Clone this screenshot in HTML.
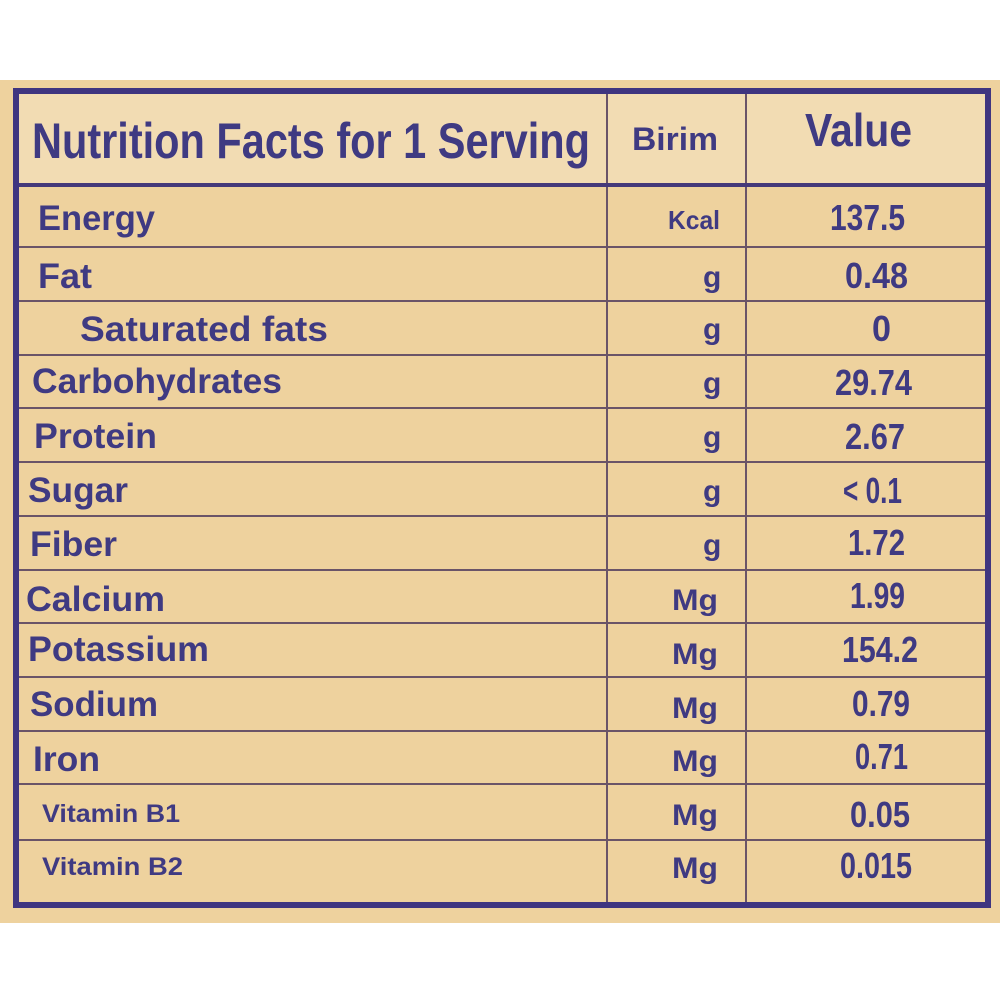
<!DOCTYPE html>
<html><head><meta charset="utf-8"><style>
html,body{margin:0;padding:0;background:#fff;}
svg{display:block}
</style></head><body>
<svg width="1000" height="1000" viewBox="0 0 1000 1000" xmlns="http://www.w3.org/2000/svg">
<rect x="0" y="0" width="1000" height="1000" fill="#ffffff"/>
<rect x="0" y="80" width="1000" height="843" fill="#eed29e"/>
<rect x="16" y="92" width="972" height="93" fill="#f2dcb3"/>
<g stroke="#6a5468" stroke-width="2" fill="none">
<line x1="16" y1="247" x2="988" y2="247"/>
<line x1="16" y1="301" x2="988" y2="301"/>
<line x1="16" y1="355" x2="988" y2="355"/>
<line x1="16" y1="408" x2="988" y2="408"/>
<line x1="16" y1="462" x2="988" y2="462"/>
<line x1="16" y1="516" x2="988" y2="516"/>
<line x1="16" y1="570" x2="988" y2="570"/>
<line x1="16" y1="623" x2="988" y2="623"/>
<line x1="16" y1="677" x2="988" y2="677"/>
<line x1="16" y1="731" x2="988" y2="731"/>
<line x1="16" y1="784" x2="988" y2="784"/>
<line x1="16" y1="840" x2="988" y2="840"/>
<line x1="607" y1="92" x2="607" y2="905"/>
<line x1="746" y1="92" x2="746" y2="905"/>
</g>
<line x1="16" y1="185" x2="988" y2="185" stroke="#45397a" stroke-width="4"/>
<rect x="16" y="91" width="972" height="814" fill="none" stroke="#3f3580" stroke-width="6"/>
<g fill="#3f3a82" font-family="'Liberation Sans Narrow','Liberation Sans',sans-serif" font-weight="bold">
<text x="32" y="158" font-size="50" textLength="558" lengthAdjust="spacingAndGlyphs">Nutrition Facts for 1 Serving</text>
<text x="632" y="150" font-size="32" textLength="86" lengthAdjust="spacingAndGlyphs">Birim</text>
<text x="805" y="146" font-size="46" textLength="107" lengthAdjust="spacingAndGlyphs">Value</text>

<g font-family="'Liberation Sans',sans-serif" font-size="35">
<text x="38" y="230" textLength="117" lengthAdjust="spacingAndGlyphs">Energy</text>
<text x="38" y="288" textLength="54" lengthAdjust="spacingAndGlyphs">Fat</text>
<text x="80" y="341" textLength="248" lengthAdjust="spacingAndGlyphs">Saturated fats</text>
<text x="32" y="393" textLength="250" lengthAdjust="spacingAndGlyphs">Carbohydrates</text>
<text x="34" y="448" textLength="123" lengthAdjust="spacingAndGlyphs">Protein</text>
<text x="28" y="502" textLength="100" lengthAdjust="spacingAndGlyphs">Sugar</text>
<text x="30" y="556" textLength="87" lengthAdjust="spacingAndGlyphs">Fiber</text>
<text x="26" y="611" textLength="139" lengthAdjust="spacingAndGlyphs">Calcium</text>
<text x="28" y="661" textLength="181" lengthAdjust="spacingAndGlyphs">Potassium</text>
<text x="30" y="716" textLength="128" lengthAdjust="spacingAndGlyphs">Sodium</text>
<text x="33" y="771" textLength="67" lengthAdjust="spacingAndGlyphs">Iron</text>
<text x="42" y="822" font-size="25" textLength="138" lengthAdjust="spacingAndGlyphs">Vitamin B1</text>
<text x="42" y="875" font-size="25" textLength="141" lengthAdjust="spacingAndGlyphs">Vitamin B2</text>

<text x="668" y="229" font-size="26" textLength="52" lengthAdjust="spacingAndGlyphs">Kcal</text>
<text x="703" y="287" font-size="30">g</text>
<text x="703" y="339" font-size="30">g</text>
<text x="703" y="393" font-size="30">g</text>
<text x="703" y="447" font-size="30">g</text>
<text x="703" y="501" font-size="30">g</text>
<text x="703" y="555" font-size="30">g</text>
<text x="672" y="610" font-size="30" textLength="46" lengthAdjust="spacingAndGlyphs">Mg</text>
<text x="672" y="664" font-size="30" textLength="46" lengthAdjust="spacingAndGlyphs">Mg</text>
<text x="672" y="718" font-size="30" textLength="46" lengthAdjust="spacingAndGlyphs">Mg</text>
<text x="672" y="771" font-size="30" textLength="46" lengthAdjust="spacingAndGlyphs">Mg</text>
<text x="672" y="825" font-size="30" textLength="46" lengthAdjust="spacingAndGlyphs">Mg</text>
<text x="672" y="878" font-size="30" textLength="46" lengthAdjust="spacingAndGlyphs">Mg</text>
</g>

<g font-size="36">
<text x="830" y="230" textLength="75" lengthAdjust="spacingAndGlyphs">137.5</text>
<text x="845" y="288" textLength="63" lengthAdjust="spacingAndGlyphs">0.48</text>
<text x="872" y="341" textLength="19" lengthAdjust="spacingAndGlyphs">0</text>
<text x="835" y="395" textLength="77" lengthAdjust="spacingAndGlyphs">29.74</text>
<text x="845" y="449" textLength="60" lengthAdjust="spacingAndGlyphs">2.67</text>
<text x="843" y="503" textLength="59" lengthAdjust="spacingAndGlyphs">&lt; 0.1</text>
<text x="848" y="555" textLength="57" lengthAdjust="spacingAndGlyphs">1.72</text>
<text x="850" y="608" textLength="55" lengthAdjust="spacingAndGlyphs">1.99</text>
<text x="842" y="662" textLength="76" lengthAdjust="spacingAndGlyphs">154.2</text>
<text x="852" y="716" textLength="58" lengthAdjust="spacingAndGlyphs">0.79</text>
<text x="855" y="769" textLength="53" lengthAdjust="spacingAndGlyphs">0.71</text>
<text x="850" y="827" textLength="60" lengthAdjust="spacingAndGlyphs">0.05</text>
<text x="840" y="878" textLength="72" lengthAdjust="spacingAndGlyphs">0.015</text>
</g>
</g>
</svg>
</body></html>
